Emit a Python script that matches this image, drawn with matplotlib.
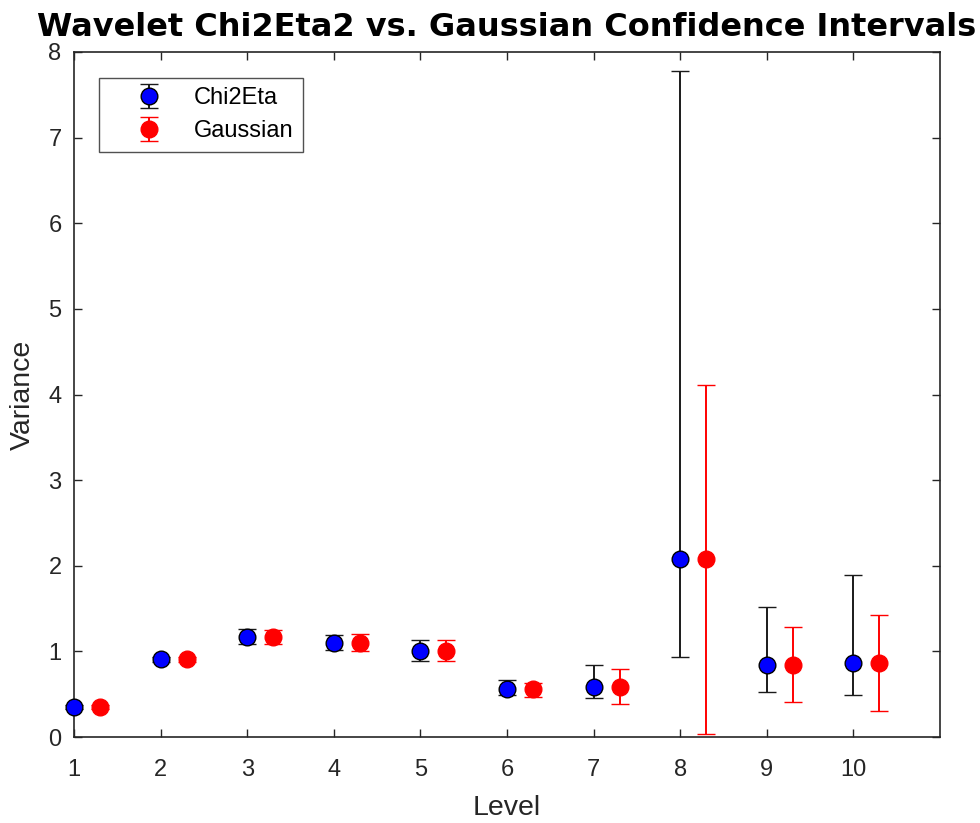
import matplotlib
matplotlib.use("Agg")
import matplotlib.pyplot as plt
import numpy as np

plt.rcParams['font.family'] = ['Liberation Sans', 'DejaVu Sans']

# Wavelet variance per level with confidence interval bounds
levels = np.arange(1, 11)
variance = [0.35, 0.91, 1.17, 1.10, 1.01, 0.56, 0.58, 2.08, 0.84, 0.87]

chi_lower = [0.33, 0.88, 1.09, 1.02, 0.89, 0.49, 0.45, 0.93, 0.53, 0.49]
chi_upper = [0.37, 0.94, 1.26, 1.19, 1.13, 0.66, 0.84, 7.78, 1.52, 1.89]

gauss_lower = [0.33, 0.88, 1.09, 1.01, 0.89, 0.47, 0.39, 0.03, 0.41, 0.30]
gauss_upper = [0.37, 0.94, 1.25, 1.20, 1.13, 0.63, 0.79, 4.11, 1.28, 1.43]

offset = 0.3

var = np.array(variance)
chi_err = np.array([var - np.array(chi_lower), np.array(chi_upper) - var])
gauss_err = np.array([var - np.array(gauss_lower), np.array(gauss_upper) - var])

fig = plt.figure(figsize=(9.8, 8.23), dpi=100)
ax = fig.add_axes([74/980, 1 - 737/823, (940 - 74)/980, (737 - 52)/823])

axis_color = '#262626'

ax.errorbar(levels, var, yerr=chi_err, fmt='o', color='black',
            ecolor='#1a1a1a', markerfacecolor='blue', markeredgecolor='black',
            markersize=12, markeredgewidth=1.0, elinewidth=1.4, capsize=6.8,
            capthick=1.4, label='Chi2Eta', clip_on=False, zorder=3)
ax.errorbar(levels + offset, var, yerr=gauss_err, fmt='o', color='red',
            ecolor='red', markerfacecolor='red', markeredgecolor='red',
            markersize=12, markeredgewidth=1.0, elinewidth=1.4, capsize=6.8,
            capthick=1.4, label='Gaussian', clip_on=False, zorder=3)

ax.set_xlim(1, 11)
ax.set_ylim(0, 8)
ax.set_xticks(range(1, 11))
ax.set_yticks(range(0, 9))

ax.tick_params(direction='in', top=True, right=True, length=6, width=1,
               colors=axis_color, labelsize=17)
ax.tick_params(axis='x', pad=16)
ax.tick_params(axis='y', pad=9)
for sp in ax.spines.values():
    sp.set_color(axis_color)
    sp.set_linewidth(1.2)

ax.set_xlabel('Level', fontsize=20.5, color=axis_color, labelpad=10)
ax.set_ylabel('Variance', fontsize=20.5, color=axis_color, labelpad=9)
fig.text(507/980, 1 - 36/823,
         'Wavelet Chi2Eta2 vs. Gaussian Confidence Intervals',
         fontsize=23, fontweight='bold', color='black',
         ha='center', va='baseline', family='DejaVu Sans')

leg = ax.legend(loc='upper left', bbox_to_anchor=(0.029, 0.962), fontsize=17,
                frameon=True, fancybox=False, edgecolor=axis_color,
                borderpad=0.4, handlelength=3.4, handletextpad=0.22,
                labelspacing=0.45, borderaxespad=0)
leg.get_frame().set_linewidth(1.0)

fig.savefig('out.png', dpi=100)
